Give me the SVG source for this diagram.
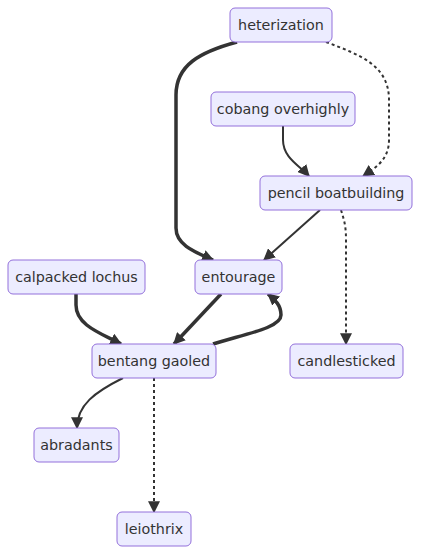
<svg xmlns="http://www.w3.org/2000/svg" width="421" height="554" viewBox="0 0 421 554">
<defs>
<style>
.node rect{fill:#ECECFF;stroke:#9370DB;stroke-width:1}
.node text{font-family:"DejaVu Sans","Liberation Sans",sans-serif;font-size:14.3px;fill:#333333;text-anchor:middle;dominant-baseline:central}
.edge{fill:none;stroke:#333333}
.n{stroke-width:2}
.t{stroke-width:3.5}
.d{stroke-width:2;stroke-dasharray:3 3}
</style>
<marker id="arr" viewBox="0 0 10 10" refX="9" refY="5" markerUnits="userSpaceOnUse" markerWidth="12" markerHeight="12" orient="auto">
<path d="M0,0 L10,5 L0,10 z" fill="#333333"/>
</marker>
</defs>
<rect width="421" height="554" fill="#ffffff"/>
<g id="connectors">
<path class="edge t" d="M237,42 C200,52 176,65 176,95 L176,228 C176,245 195,252 213,260" marker-end="url(#arr)"/>
<path class="edge d" d="M326,42 C360,55 389,65 389,100 L389,140 C389,160 375,168 363,176" marker-end="url(#arr)"/>
<path class="edge n" d="M283,126 L283,140 C283,158 300,166 309,176" marker-end="url(#arr)"/>
<path class="edge n" d="M320,210 L264,260" marker-end="url(#arr)"/>
<path class="edge d" d="M341,210 C344,220 346,225 346,240 L346,344" marker-end="url(#arr)"/>
<path class="edge t" d="M76,294 L76,305 C76,325 100,333 121,344" marker-end="url(#arr)"/>
<path class="edge t" d="M221,294 L174,344" marker-end="url(#arr)"/>
<path class="edge t" d="M213,344 C245,334 281,328 281,315 C281,305 275,300 268,294" marker-end="url(#arr)"/>
<path class="edge n" d="M123,378 C95,392 77,405 77,428" marker-end="url(#arr)"/>
<path class="edge d" d="M154,378 L154,512" marker-end="url(#arr)"/>
</g>
<g id="heterization" class="node"><rect x="230" y="8" width="102" height="34" rx="5"/><text x="281" y="25">heterization</text></g>
<g id="cobang-overhighly" class="node"><rect x="211" y="92" width="144" height="34" rx="5"/><text x="283" y="109">cobang overhighly</text></g>
<g id="pencil-boatbuilding" class="node"><rect x="260" y="176" width="152" height="34" rx="5"/><text x="336" y="193">pencil boatbuilding</text></g>
<g id="calpacked-lochus" class="node"><rect x="8" y="260" width="137" height="34" rx="5"/><text x="76.5" y="277">calpacked lochus</text></g>
<g id="entourage" class="node"><rect x="195" y="260" width="87" height="34" rx="5"/><text x="238.5" y="277">entourage</text></g>
<g id="bentang-gaoled" class="node"><rect x="92" y="344" width="124" height="34" rx="5"/><text x="154" y="361">bentang gaoled</text></g>
<g id="candlesticked" class="node"><rect x="290" y="344" width="113" height="34" rx="5"/><text x="346.5" y="361">candlesticked</text></g>
<g id="abradants" class="node"><rect x="34" y="428" width="85" height="34" rx="5"/><text x="76.5" y="445">abradants</text></g>
<g id="leiothrix" class="node"><rect x="117" y="512" width="74" height="34" rx="5"/><text x="154" y="529">leiothrix</text></g>
</svg>
